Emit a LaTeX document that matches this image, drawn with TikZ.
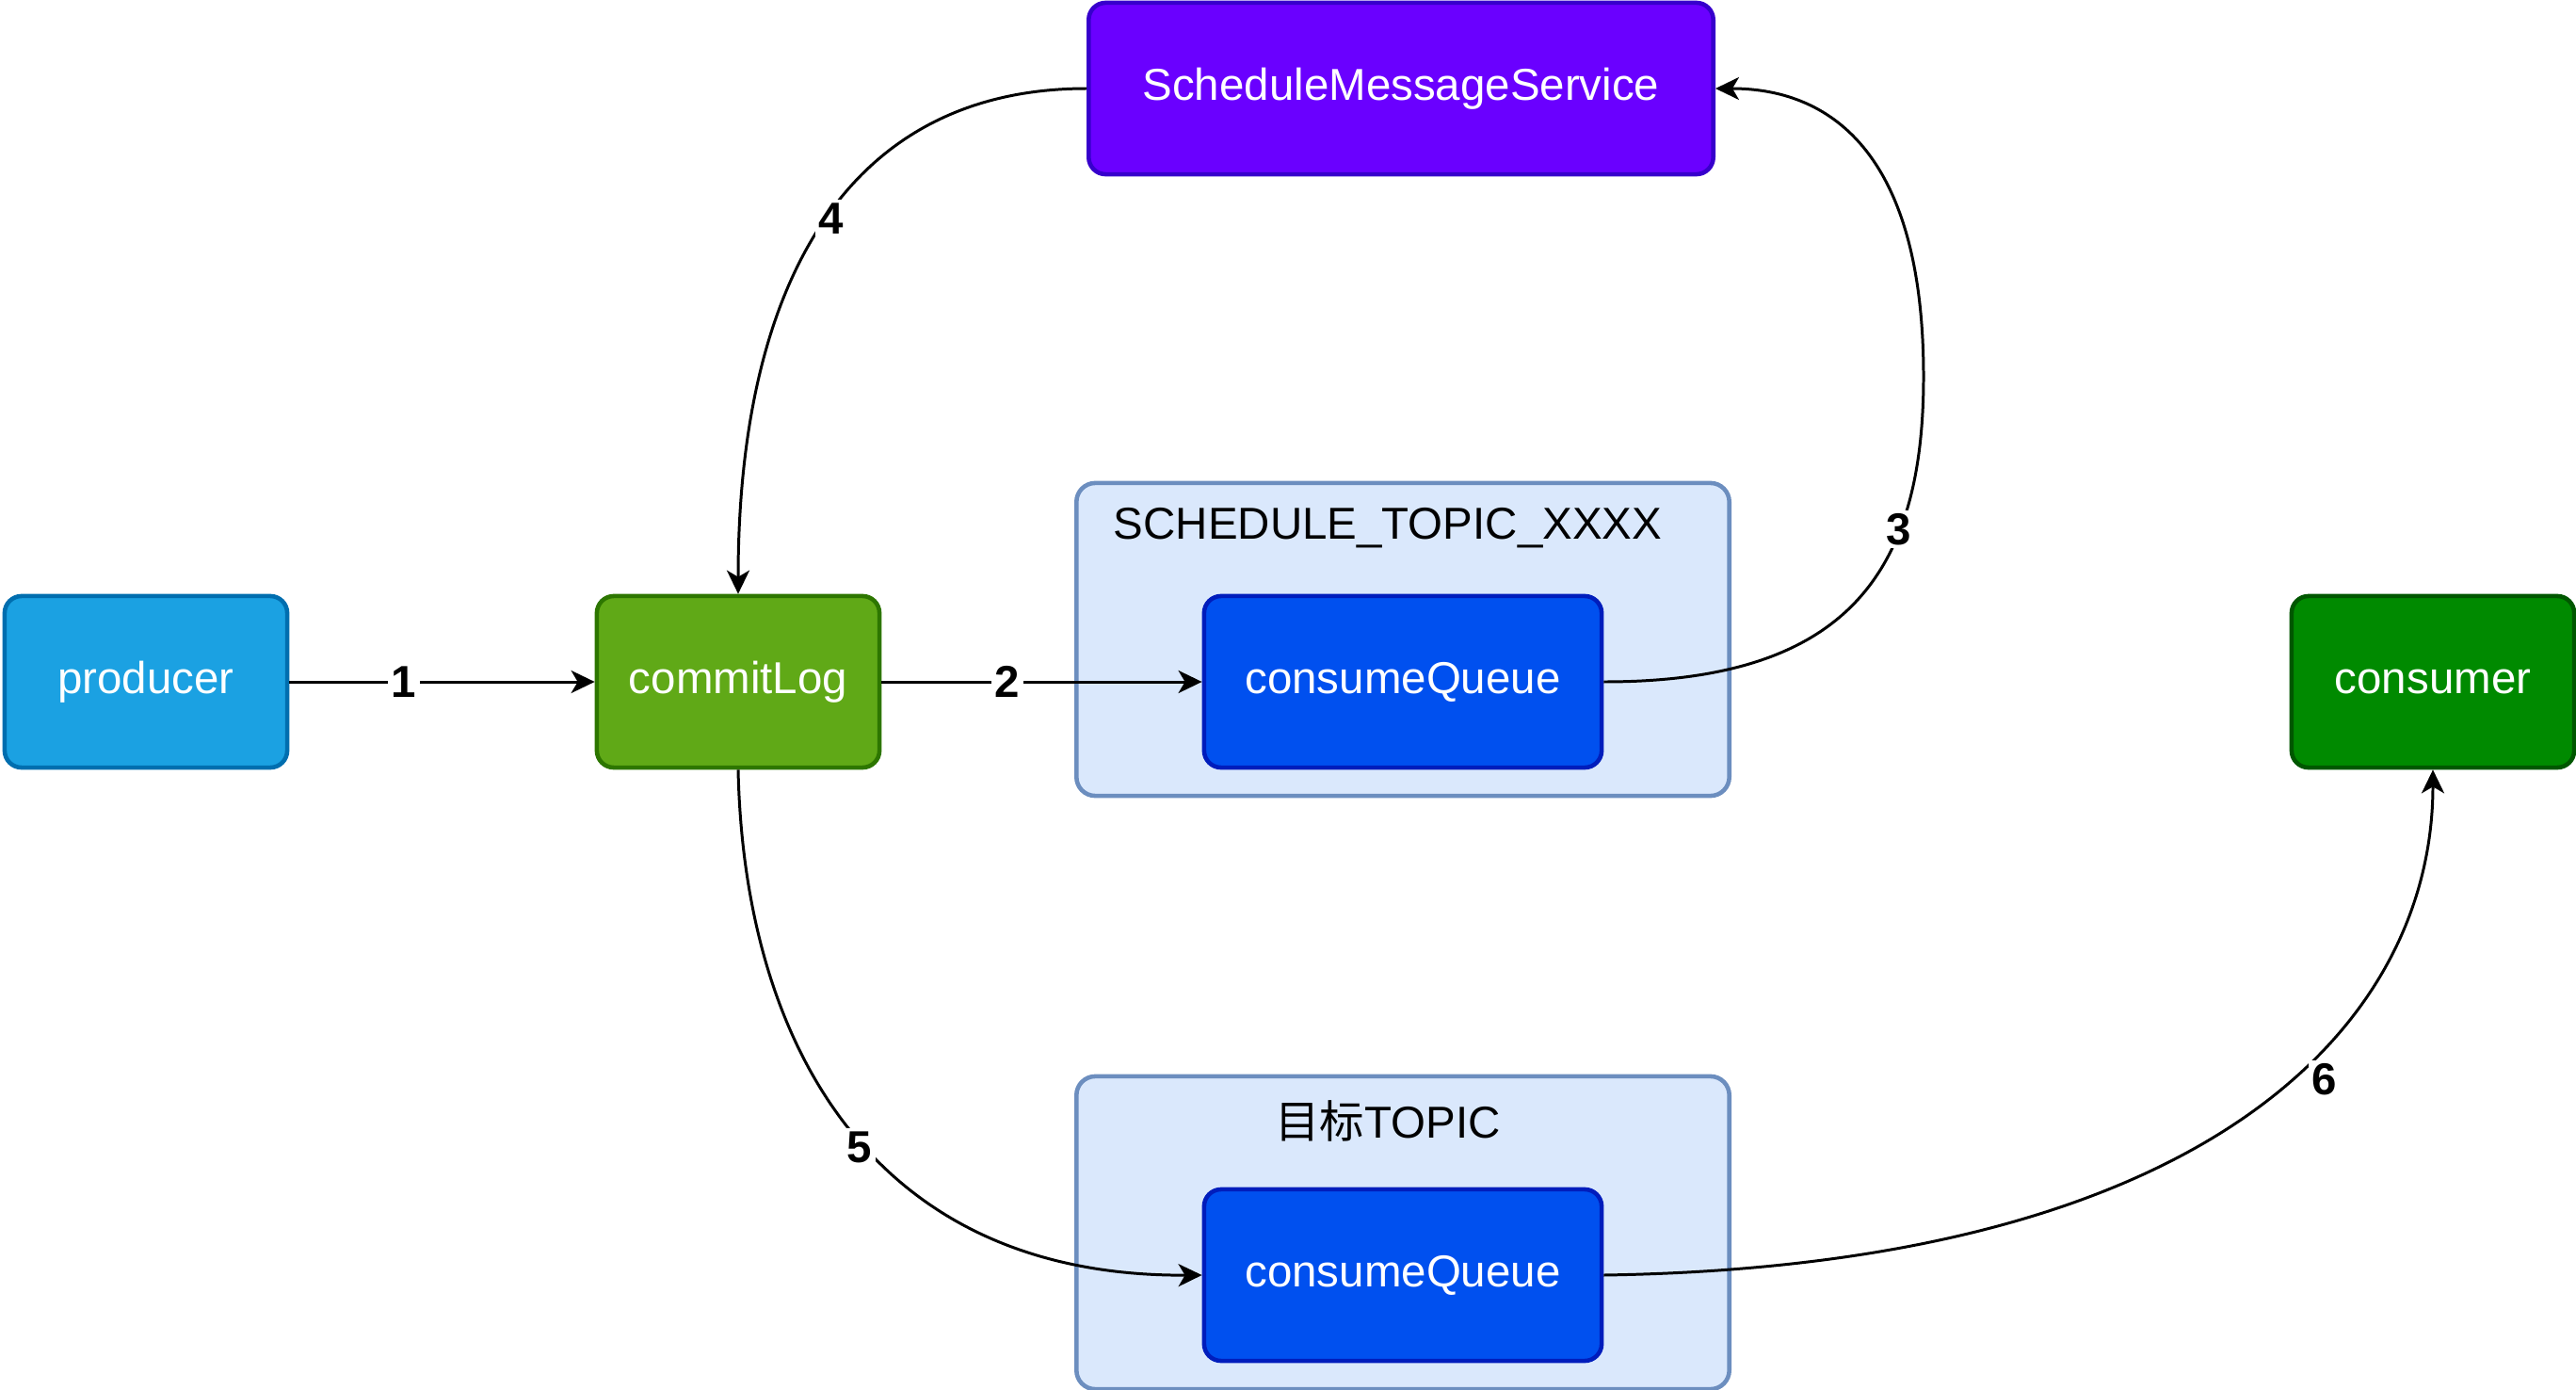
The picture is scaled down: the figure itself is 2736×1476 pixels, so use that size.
\documentclass[tikz,border=0pt]{standalone}
\usepackage{fontspec}
\setmainfont{Liberation Sans}
\newfontfamily\cjk{Noto Sans CJK SC}
\usetikzlibrary{arrows.meta}
\definecolor{prodF}{HTML}{1BA1E2}\definecolor{prodD}{HTML}{006EAF}
\definecolor{clF}{HTML}{60A917}\definecolor{clD}{HTML}{2D7600}
\definecolor{smsF}{HTML}{6A00FF}\definecolor{smsD}{HTML}{3700CC}
\definecolor{cqF}{HTML}{0050EF}\definecolor{cqD}{HTML}{001DBC}
\definecolor{csF}{HTML}{008A00}\definecolor{csD}{HTML}{005700}
\definecolor{ctF}{HTML}{DAE8FC}\definecolor{ctD}{HTML}{6C8EBF}
\begin{document}
\begin{tikzpicture}[x={(0.01cm,0)},y={(0,-0.01cm)},
  every node/.style={font=\fontsize{13.5pt}{16pt}\selectfont},
  box/.style={draw, line width=1.3pt, rounded corners=0.18cm, text=white, inner sep=0pt, minimum width=3cm, minimum height=1.82cm},
  cont/.style={draw=ctD, fill=ctF, line width=1.3pt, rounded corners=0.2cm, inner sep=0pt, minimum width=6.93cm, minimum height=3.32cm},
  arr/.style={line width=0.85pt, -{Stealth[length=0.25cm, width=0.24cm, inset=0.07cm]}},
  lbl/.style={fill=white, inner sep=1pt, font=\bfseries\fontsize{13.5pt}{16pt}\selectfont}]
\useasboundingbox (0,0) rectangle (2736,1476);
% containers
\node[cont] (c1) at (1490,679) {};
\node[cont] (c2) at (1490,1309) {};
\node (t1) at (1474,561) {SCHEDULE\_TOPIC\_XXXX};
\node (t2) at (1474,1190) {{\cjk 目标}TOPIC};
% boxes
\node[box, fill=prodF, draw=prodD] (producer) at (155,724) {producer};
\node[box, fill=clF, draw=clD] (commitLog) at (784,724) {commitLog};
\node[box, fill=smsF, draw=smsD, minimum width=6.63cm] (sms) at (1488,94) {ScheduleMessageService};
\node[box, fill=cqF, draw=cqD, minimum width=4.22cm] (cq1) at (1490,724) {consumeQueue};
\node[box, fill=cqF, draw=cqD, minimum width=4.22cm] (cq2) at (1490,1354) {consumeQueue};
\node[box, fill=csF, draw=csD] (consumer) at (2584,724) {consumer};
% edges
\draw[arr] (producer) -- (commitLog);
\draw[arr] (commitLog) -- (cq1);
\draw[arr] (cq1.east) .. controls (1960,724) and (2043,610) .. (2043,400)
  .. controls (2043,170) and (1950,94) .. (sms.east);
\draw[arr] (sms.west) .. controls (900,94) and (784,300) .. (commitLog.north);
\draw[arr] (commitLog.south) .. controls (790,1100) and (920,1356) .. (cq2.west);
\draw[arr] (cq2.east) .. controls (2356,1344) and (2584,1082) .. (consumer.south);
% labels
\node[lbl] (l1) at (429,724) {1};
\node[lbl] (l2) at (1070,724) {2};
\node[lbl] (l3) at (2017,562) {3};
\node[lbl] (l4) at (883,232) {4};
\node[lbl] (l5) at (913,1218) {5};
\node[lbl] (l6) at (2469,1146) {6};
\end{tikzpicture}
\end{document}
